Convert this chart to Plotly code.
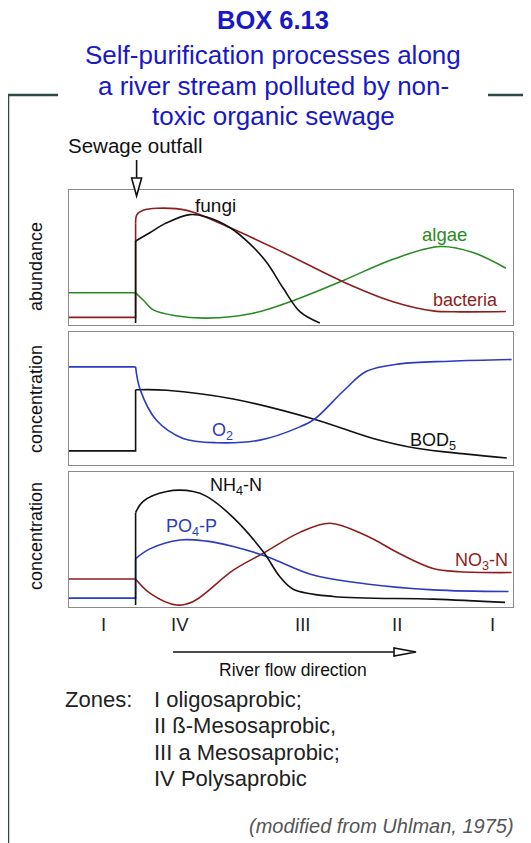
import plotly.graph_objects as go

# ---------------- data (relative distance 0-100, relative level 0-100) ----------------
OUTFALL = 15

bacteria_x = [0, 15, 15, 15.3, 16.7, 19.8, 26.5, 36.3, 48.3, 61.8, 73, 82, 88, 98.4]
bacteria_y = [4.2, 4.2, 75, 81.5, 84.7, 86.3, 84.7, 71.6, 53, 30.9, 16, 9.1, 8.4, 8.6]

fungi_x = [15, 15, 18.2, 22, 27.2, 31, 36.3, 40.8, 44.5, 48.3, 52, 56.5]
fungi_y = [0, 61.7, 67.9, 75.3, 81.5, 79.7, 71.6, 59.3, 45.7, 25.9, 8.6, 0]

algae_x = [0, 15, 16.7, 19, 24, 31, 41.5, 49.8, 61.8, 73, 83.6, 91, 98.4]
algae_y = [22.7, 22.7, 17.3, 9.9, 5.5, 3.7, 7.4, 16, 32, 48, 57.5, 53, 41.2]

o2_x = [0, 15, 16, 19.7, 25.7, 33.3, 43, 52, 55.4, 61.8, 67, 74.5, 85.8, 99.7]
o2_y = [73.4, 73.4, 56.4, 32.6, 18.8, 15.5, 17.5, 27.6, 33.8, 55, 70, 75.7, 77.7, 79]

bod_x = [0, 15, 15, 22, 37, 55.4, 68.5, 78.3, 89.6, 98.6]
bod_y = [9.3, 9.3, 55.9, 55.6, 48.9, 33.3, 18.8, 11.3, 6.8, 3.8]

nh4_x = [15, 15, 16.7, 22, 28, 31, 37, 43.8, 47.5, 50.5, 59.5, 82, 98.2]
nh4_y = [0, 69.4, 78, 85.4, 85.4, 81.7, 65.7, 39.8, 21.2, 11.9, 6.4, 4.4, 2]

po4_x = [0, 15, 15, 18.2, 25, 31, 37, 44.5, 55, 67, 82, 99]
po4_y = [5.2, 5.2, 34.8, 42.2, 48.9, 48, 44, 36.5, 22.5, 15.8, 11.4, 10.1]

no3_x = [0, 15, 18.2, 24.2, 28, 37, 43.8, 52, 58.8, 67, 74.5, 82, 88, 99.7]
no3_y = [19.5, 19.5, 8.9, 0, 2.7, 26.2, 39, 54.6, 61.5, 52, 38.5, 27.4, 25, 24.4]

zone_labels = ["I", "IV", "III", "II", "I"]
zone_pos = [7.7, 25, 52.5, 73.9, 95.3]

zones_text = ["I oligosaprobic;", "II ß-Mesosaprobic,", "III a Mesosaprobic;", "IV Polysaprobic"]

# ---------------- styling ----------------
OFF = 8                      # the page body has an 8px margin
W, H = 531 - OFF, 843 - OFF  # figure size so that it fills the window
FONT = "Liberation Sans, Arial, sans-serif"
RED = "#8e1d1d"
BLACK = "#111111"
GREEN = "#2a8a22"
BLUE = "#2b3cc0"
TITLE_BLUE = "#1818c8"
FRAME = "#2c4848"
BORDER = "#8a8a8a"


def pxx(x):
    return (x - OFF) / W


def pyy(y):
    return 1 - (y - OFF) / H


X0, X1 = 69, 513
panels = [(190, 325), (332, 465), (472, 607)]

fig = go.Figure()


def add_series(xs, ys, color, axis):
    # linear part up to the outfall (flat + jump), smooth spline afterwards
    k = max(i for i, v in enumerate(xs) if v == OUTFALL)
    xa, ya = ("x", "y") if axis == 1 else (f"x{axis}", f"y{axis}")
    if k > 0:
        fig.add_trace(go.Scatter(x=xs[:k + 1], y=ys[:k + 1], mode="lines",
                                 line=dict(color=color, width=1.6, shape="linear"),
                                 xaxis=xa, yaxis=ya, showlegend=False, hoverinfo="skip"))
    fig.add_trace(go.Scatter(x=xs[k:], y=ys[k:], mode="lines",
                             line=dict(color=color, width=1.6, shape="spline", smoothing=1),
                             xaxis=xa, yaxis=ya, showlegend=False, hoverinfo="skip"))


add_series(algae_x, algae_y, GREEN, 1)
add_series(bacteria_x, bacteria_y, RED, 1)
add_series(fungi_x, fungi_y, BLACK, 1)
add_series(bod_x, bod_y, BLACK, 2)
add_series(o2_x, o2_y, BLUE, 2)
add_series(no3_x, no3_y, RED, 3)
add_series(po4_x, po4_y, BLUE, 3)
add_series(nh4_x, nh4_y, BLACK, 3)

axis_common = dict(showgrid=False, zeroline=False, showticklabels=False, ticks="",
                   showline=True, mirror=True, linecolor=BORDER, linewidth=1, fixedrange=True)
layout = dict(width=W, height=H, margin=dict(l=0, r=0, t=0, b=0),
              paper_bgcolor="white", plot_bgcolor="white",
              font=dict(family=FONT, color=BLACK), showlegend=False)
for i, (top, bot) in enumerate(panels, start=1):
    sfx = "" if i == 1 else str(i)
    layout[f"xaxis{sfx}"] = dict(domain=[pxx(X0), pxx(X1)], range=[0, 100],
                                 anchor=f"y{sfx}", **axis_common)
    layout[f"yaxis{sfx}"] = dict(domain=[pyy(bot), pyy(top)], range=[-1.5, 100],
                                 anchor=f"x{sfx}", **axis_common)
fig.update_layout(**layout)

ann = []


def text(x, y, s, size, color=BLACK, xanchor="center", xref="paper", yref="paper", **kw):
    ann.append(dict(x=x, y=y, xref=xref, yref=yref, text=s, showarrow=False,
                    xanchor=xanchor, yanchor="middle",
                    font=dict(family=FONT, size=size, color=color), **kw))


# title
text(pxx(273), pyy(20), "<b>BOX 6.13</b>", 25.5, TITLE_BLUE)
text(pxx(273), pyy(55), "Self-purification processes along", 26, TITLE_BLUE)
text(pxx(273), pyy(86), "a river stream polluted by non-", 26, TITLE_BLUE)
text(pxx(273), pyy(116), "toxic organic sewage", 26, TITLE_BLUE)
text(pxx(66), pyy(145), "Sewage outfall", 20.5, BLACK, xanchor="left")

# y-axis titles
text(pxx(36), pyy(267), "abundance", 18, BLACK, textangle=-90)
text(pxx(36), pyy(399), "concentration", 18, BLACK, textangle=-90)
text(pxx(36), pyy(536), "concentration", 18, BLACK, textangle=-90)

# curve labels
text(33.1, 88.1, "fungi", 19, BLACK, xref="x", yref="y")
text(84.5, 66.7, "algae", 18.5, GREEN, xref="x", yref="y")
text(89.2, 17.3, "bacteria", 18, RED, xref="x", yref="y")
text(34.5, 24, "O<sub>2</sub>", 18, BLUE, xref="x2", yref="y2")
text(82, 16.5, "BOD<sub>5</sub>", 18, BLACK, xref="x2", yref="y2")
text(37.6, 88.9, "NH<sub>4</sub>-N", 18, BLACK, xref="x3", yref="y3")
text(27.5, 58.5, "PO<sub>4</sub>-P", 18, BLUE, xref="x3", yref="y3")
text(93, 32.6, "NO<sub>3</sub>-N", 18, RED, xref="x3", yref="y3")

# zone numerals
for lab, pos in zip(zone_labels, zone_pos):
    text(pos, pyy(624), lab, 18.5, "#222222", xref="x3")

text(pxx(293), pyy(670), "River flow direction", 17.5, BLACK)

text(pxx(63), pyy(699), "Zones:", 22, "#222222", xanchor="left")
for j, line in enumerate(zones_text):
    text(pxx(152), pyy(699 + j * 26.5), line, 22, "#222222", xanchor="left")

text(pxx(516), pyy(826), "<i>(modified from Uhlman, 1975)</i>", 20, "#555555", xanchor="right")

fig.update_layout(annotations=ann)

# ---------------- decorations ----------------
shapes = []
# outer frame
shapes.append(dict(type="line", xref="paper", yref="paper", x0=pxx(8), x1=pxx(8), y0=pyy(95), y1=pyy(843),
                   line=dict(color=FRAME, width=2.5)))
shapes.append(dict(type="line", xref="paper", yref="paper", x0=pxx(7), x1=pxx(58), y0=pyy(95), y1=pyy(95),
                   line=dict(color=FRAME, width=2.5)))
shapes.append(dict(type="line", xref="paper", yref="paper", x0=pxx(488), x1=pxx(531), y0=pyy(95), y1=pyy(95),
                   line=dict(color=FRAME, width=2.5)))

# sewage outfall arrow
ox = X0 + OUTFALL / 100 * (X1 - X0) + 1
shapes.append(dict(type="line", xref="paper", yref="paper", x0=pxx(ox), x1=pxx(ox), y0=pyy(160), y1=pyy(178),
                   line=dict(color=BLACK, width=1.6)))
shapes.append(dict(type="path", xref="paper", yref="paper",
                   path=f"M {pxx(ox-5)} {pyy(178)} L {pxx(ox+5)} {pyy(178)} L {pxx(ox)} {pyy(196)} Z",
                   fillcolor="white", line=dict(color=BLACK, width=1.6)))

# river flow arrow
shapes.append(dict(type="line", xref="paper", yref="paper", x0=pxx(173), x1=pxx(394), y0=pyy(652), y1=pyy(652),
                   line=dict(color=BLACK, width=1.6)))
shapes.append(dict(type="path", xref="paper", yref="paper",
                   path=f"M {pxx(394)} {pyy(648)} L {pxx(394)} {pyy(656)} L {pxx(416)} {pyy(652)} Z",
                   fillcolor="white", line=dict(color=BLACK, width=1.6)))

fig.update_layout(shapes=shapes)

fig.write_html("out.html")
